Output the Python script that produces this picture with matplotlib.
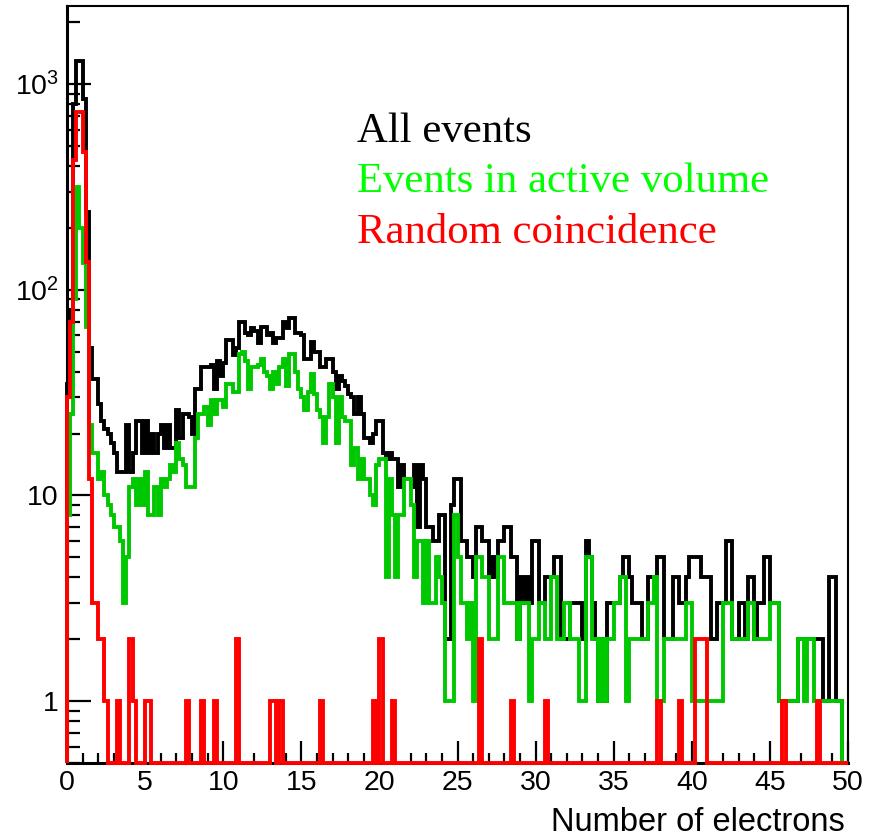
import numpy as np
import matplotlib
matplotlib.use("Agg")
import matplotlib.pyplot as plt
from matplotlib.ticker import FixedLocator, LogLocator, MultipleLocator, NullFormatter

# 250 bins of 0.2 electrons between 0 and 50
bin_edges = np.linspace(0, 50, 251)

all_events = [
    35, 80, 800, 1300, 1300, 850, 240, 52, 37, 37,
    28, 23, 21, 20, 18, 16, 13, 13, 13, 22,
    13, 16, 23, 23, 16, 23, 16, 20, 16, 20,
    22, 17, 22, 17, 17, 26, 19, 25, 25, 24,
    20, 33, 33, 42, 42, 42, 43, 33, 45, 38,
    44, 57, 57, 48, 52, 70, 70, 62, 60, 65,
    63, 55, 66, 66, 60, 62, 55, 58, 58, 70,
    65, 73, 73, 62, 62, 60, 46, 46, 56, 50,
    50, 42, 42, 46, 46, 40, 33, 38, 36, 34,
    31, 30, 25, 30, 25, 19, 19, 18, 20, 23,
    23, 16, 15, 16, 15, 15, 11, 14, 12, 12,
    11, 14, 7, 14, 12, 7, 7, 6, 6, 8,
    8, 2, 2, 9, 12, 12, 6, 6, 5, 5,
    4, 7, 7, 6, 6, 4, 5, 4, 6, 6,
    7, 7, 5, 5, 2, 4, 3, 4, 3, 6,
    6, 3, 3, 4, 4, 4, 5, 5, 2, 2,
    2, 3, 3, 3, 3, 2, 6, 5, 3, 2,
    1, 2, 1, 3, 3, 3, 3, 4, 5, 5,
    4, 3, 3, 3, 2, 2, 4, 4, 4, 5,
    5, 2, 2, 2, 4, 4, 3, 3, 4, 5,
    5, 5, 5, 4, 4, 4, 2, 2, 3, 3,
    3, 6, 6, 2, 2, 3, 3, 2, 4, 4,
    2, 3, 3, 5, 5, 3, 3, 3, 1, 1,
    1, 1, 1, 1, 2, 2, 2, 2, 2, 2,
    2, 2, 1, 1, 4, 4, 1, 1, 0, 0,
]

active_volume = [
    8, 25, 90, 315, 200, 135, 66, 22, 16, 16,
    12, 13, 10, 9, 8, 7, 7, 6, 3, 5,
    11, 12, 9, 12, 9, 13, 8, 8, 11, 8,
    12, 11, 12, 14, 13, 18, 15, 14, 11, 11,
    11, 19, 25, 25, 27, 22, 29, 25, 29, 29,
    27, 35, 35, 32, 32, 49, 50, 45, 33, 42,
    42, 43, 46, 40, 38, 33, 40, 35, 42, 46,
    34, 49, 49, 40, 33, 30, 26, 32, 39, 31,
    26, 24, 18, 24, 35, 30, 18, 30, 24, 23,
    23, 14, 17, 12, 15, 12, 12, 10, 9, 14,
    15, 15, 4, 12, 8, 4, 8, 8, 12, 12,
    9, 4, 6, 6, 3, 6, 3, 3, 5, 4,
    3, 1, 1, 1, 8, 5, 3, 3, 2, 3,
    1, 5, 5, 4, 4, 2, 2, 2, 5, 5,
    3, 3, 3, 3, 2, 3, 3, 3, 1, 2,
    2, 3, 3, 2, 2, 4, 4, 2, 2, 3,
    3, 2, 2, 2, 1, 1, 5, 5, 2, 2,
    1, 2, 1, 2, 2, 3, 3, 4, 4, 1,
    2, 2, 2, 2, 2, 2, 3, 3, 4, 1,
    1, 2, 2, 2, 2, 2, 2, 2, 3, 3,
    1, 1, 1, 1, 1, 1, 1, 1, 1, 1,
    3, 3, 3, 2, 2, 2, 2, 2, 3, 3,
    2, 2, 2, 2, 2, 3, 3, 3, 1, 1,
    1, 1, 1, 1, 2, 2, 1, 2, 2, 1,
    1, 1, 1, 1, 1, 1, 1, 1, 0, 0,
]

random_coincidence = [
    30, 70, 430, 730, 730, 470, 137, 12, 3, 3,
    2, 2, 1, 0, 0, 0, 1, 0, 0, 0,
    2, 1, 0, 0, 0, 1, 1, 0, 0, 0,
    0, 0, 0, 0, 0, 0, 0, 0, 1, 0,
    0, 0, 0, 1, 0, 0, 0, 1, 0, 0,
    0, 0, 0, 0, 2, 0, 0, 0, 0, 0,
    0, 0, 0, 0, 0, 1, 1, 0, 1, 0,
    0, 0, 0, 0, 0, 0, 0, 0, 0, 0,
    0, 1, 0, 0, 0, 0, 0, 0, 0, 0,
    0, 0, 0, 0, 0, 0, 0, 0, 1, 0,
    2, 0, 0, 0, 1, 0, 0, 0, 0, 0,
    0, 0, 0, 0, 0, 0, 0, 0, 0, 0,
    0, 0, 0, 0, 0, 0, 0, 0, 0, 0,
    0, 0, 2, 0, 0, 0, 0, 0, 0, 0,
    0, 0, 1, 0, 0, 0, 0, 0, 0, 0,
    0, 0, 0, 1, 0, 0, 0, 0, 0, 0,
    0, 0, 0, 0, 0, 0, 0, 0, 0, 0,
    0, 0, 0, 0, 0, 0, 0, 0, 0, 0,
    0, 0, 0, 0, 0, 0, 0, 0, 0, 1,
    0, 0, 0, 0, 0, 0, 1, 0, 0, 0,
    0, 2, 2, 2, 2, 0, 0, 0, 0, 0,
    0, 0, 0, 0, 0, 0, 0, 0, 0, 0,
    0, 0, 0, 0, 0, 0, 0, 0, 0, 1,
    0, 0, 0, 0, 0, 0, 0, 0, 0, 0,
    1, 0, 0, 0, 0, 0, 0, 0, 0, 0,
]

labels = ["All events", "Events in active volume", "Random coincidence"]
line_colors = ["black", "#00c800", "#ff0000"]
text_colors = ["black", "#00ff00", "#ff0000"]

y_ticks = [1, 10, 100, 1000]
y_ticklabels = ["1", "10", "$10^{2}$", "$10^{3}$"]

plt.rcParams['font.family'] = ['Liberation Sans', 'DejaVu Sans']
plt.rcParams['mathtext.fontset'] = 'custom'
plt.rcParams['mathtext.rm'] = 'Liberation Sans'
plt.rcParams['mathtext.it'] = 'Liberation Sans:italic'

W, H = 875, 839
fig = plt.figure(figsize=(W / 100, H / 100), dpi=100)
ax = fig.add_axes([67 / W, 1 - 763 / H, (848 - 67) / W, (763 - 6) / H])

ymin, ymax = 0.5, 2400
for vals, col in zip([all_events, active_volume, random_coincidence], line_colors):
    v = np.array(vals, dtype=float)
    v = np.where(v > 0, v, ymin)  # empty bins sit on the frame bottom, ROOT style
    ax.stairs(v, bin_edges, baseline=ymin, color=col, lw=2.8, clip_on=False, zorder=3)

ax.set_yscale('log')
ax.set_xlim(0, 50)
ax.set_ylim(ymin, ymax)

ax.yaxis.set_major_locator(FixedLocator(y_ticks))
ax.set_yticklabels(y_ticklabels)
ax.yaxis.set_minor_locator(LogLocator(base=10, subs=np.arange(2, 10), numticks=20))
ax.yaxis.set_minor_formatter(NullFormatter())
ax.xaxis.set_major_locator(MultipleLocator(5))
ax.xaxis.set_minor_locator(MultipleLocator(1))

ax.tick_params(which='both', direction='in', top=False, right=False, width=1.6, colors='black')
ax.tick_params(axis='y', which='major', length=17, pad=6, labelsize=20.5)
ax.tick_params(axis='y', which='minor', length=9)
ax.tick_params(axis='x', which='major', length=16, pad=5, labelsize=20.5)
ax.tick_params(axis='x', which='minor', length=7)

for side in ['left', 'bottom']:
    ax.spines[side].set_linewidth(2.2)
for side in ['top', 'right']:
    ax.spines[side].set_linewidth(1.5)

fig.text(845 / W, 1 - 831 / H, "Number of electrons", ha='right', va='baseline', fontsize=23.5)

for lab, col, yb in zip(labels, text_colors, [142, 192, 243]):
    fig.text(357 / W, 1 - yb / H, lab, color=col, ha='left', va='baseline',
             fontsize=30.8, family=['Liberation Serif', 'DejaVu Serif'])

fig.savefig("out.png", dpi=100)
